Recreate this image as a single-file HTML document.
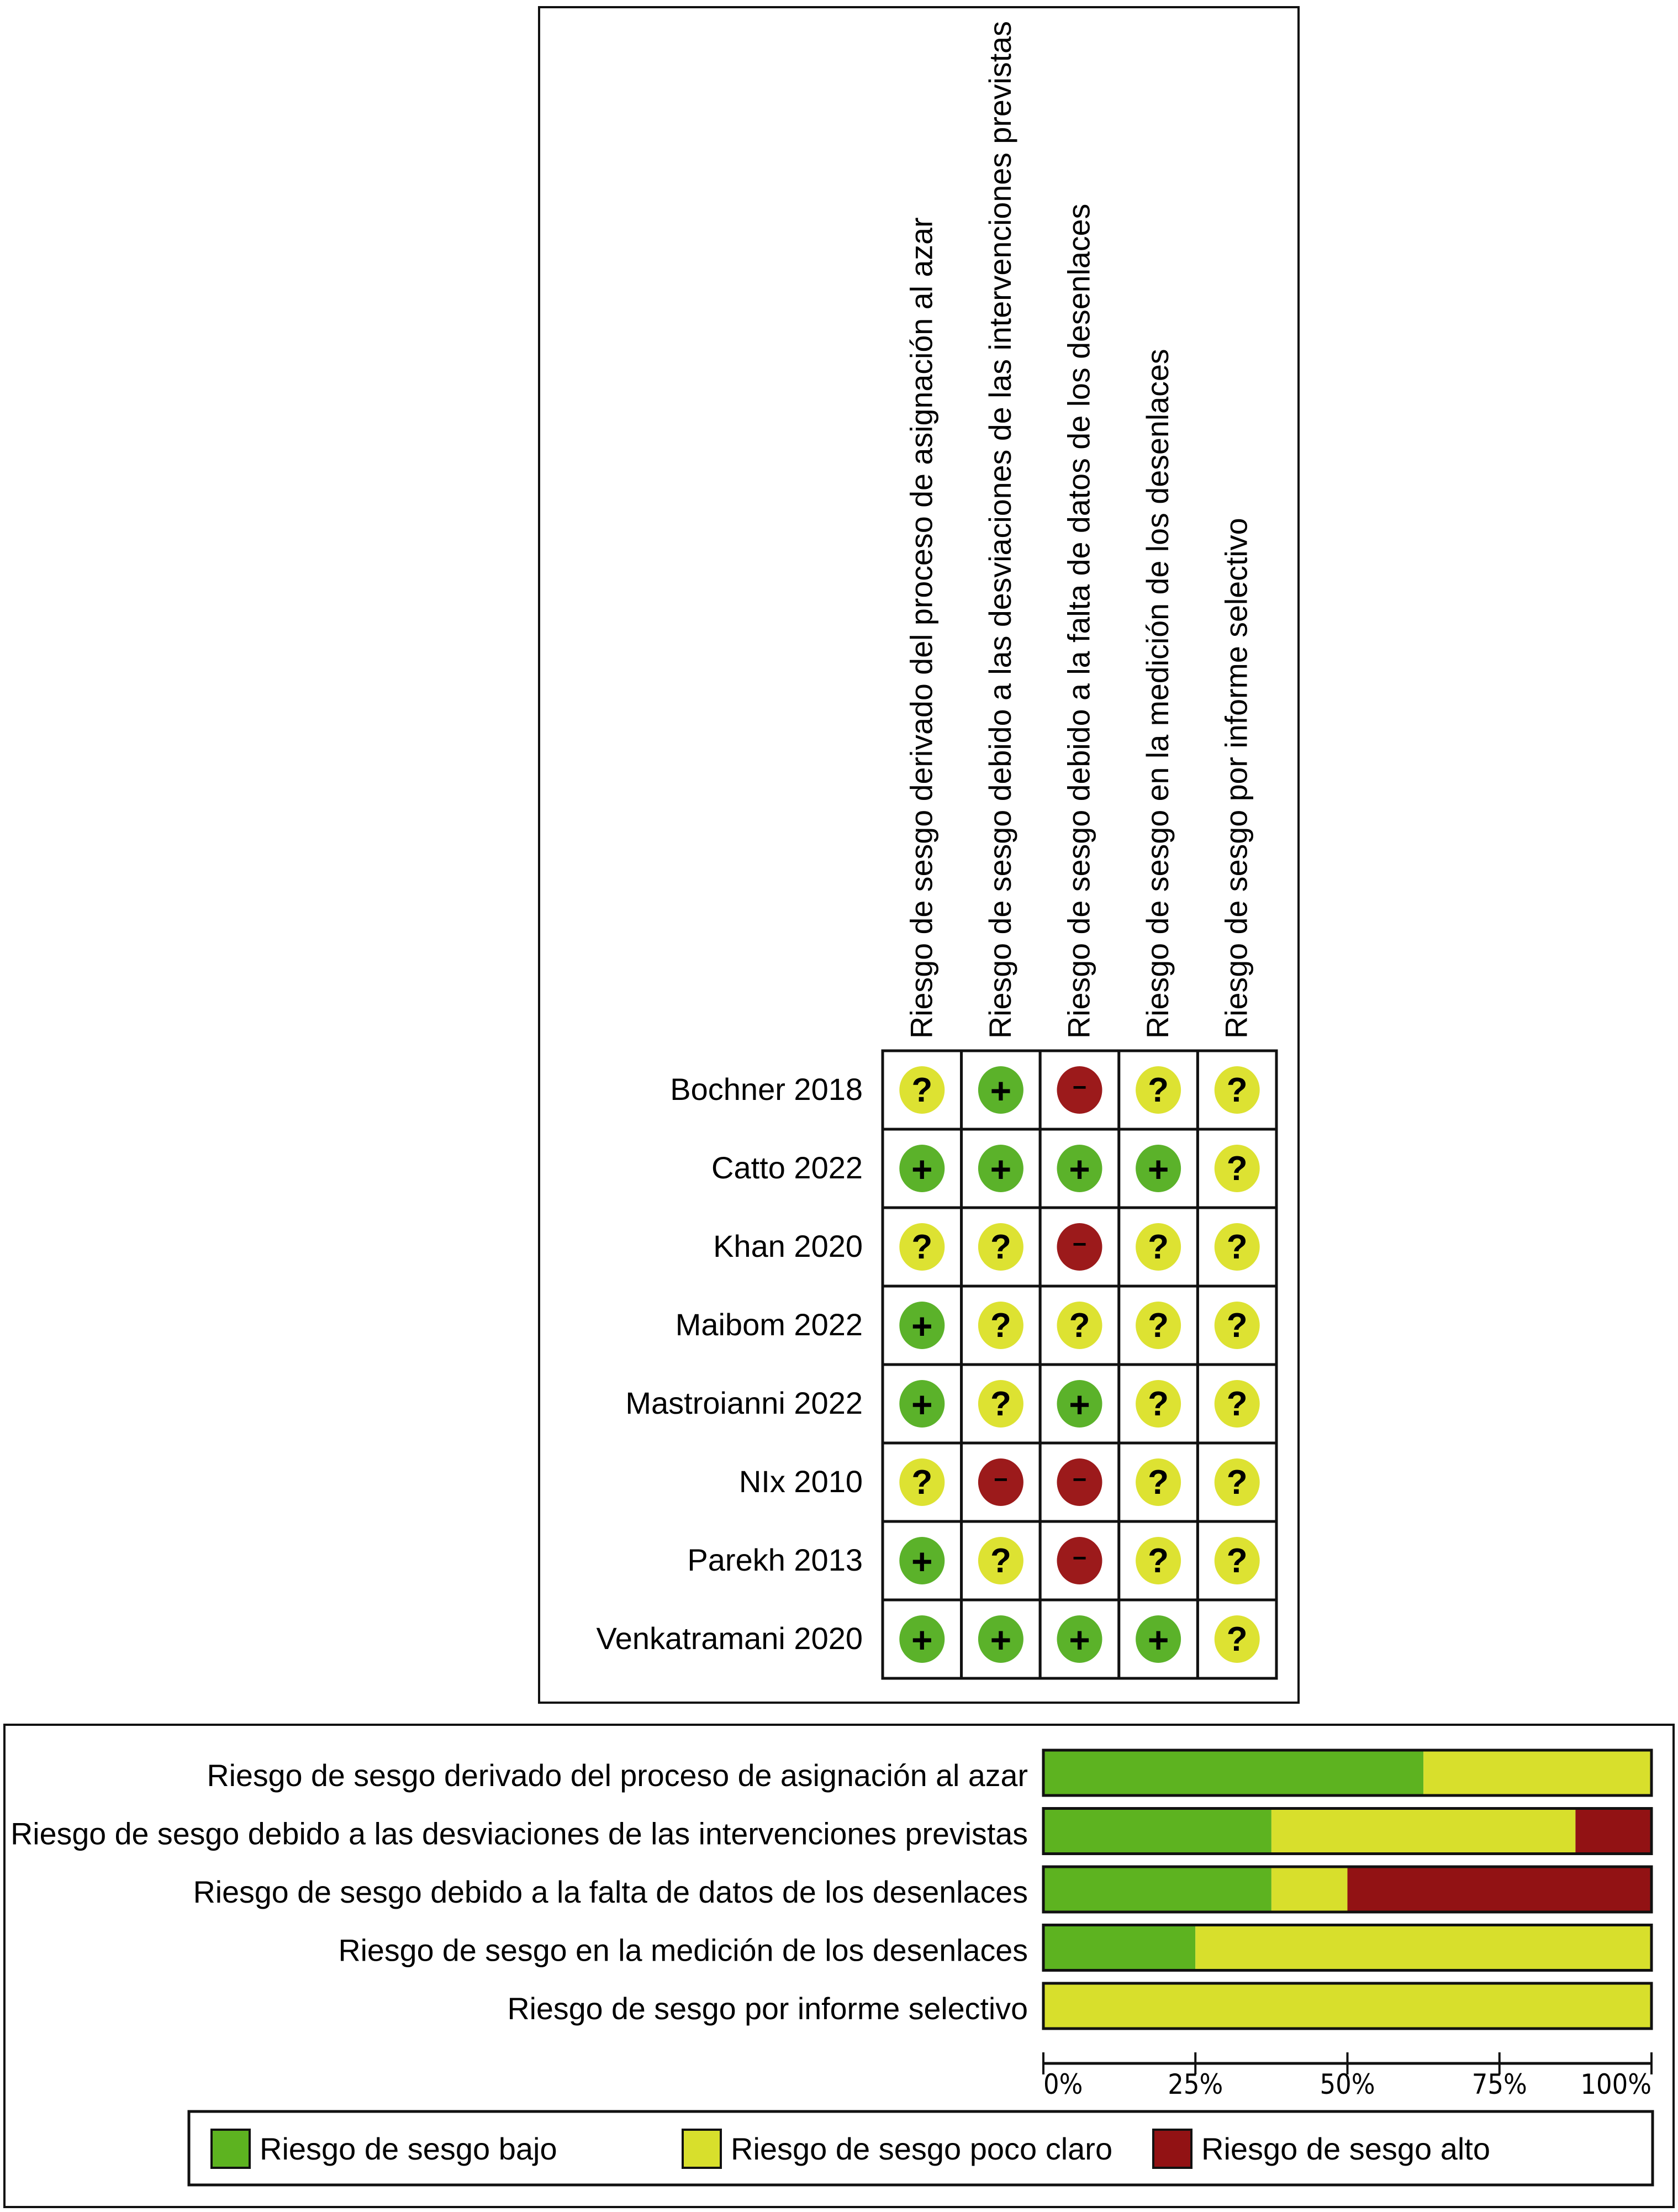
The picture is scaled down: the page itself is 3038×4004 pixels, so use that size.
<!DOCTYPE html>
<html><head><meta charset="utf-8"><style>
html,body{margin:0;padding:0;background:#fff;}
svg{display:block;}
text{font-family:"Liberation Sans",sans-serif;fill:#000;}
</style></head><body>
<svg id="chart" width="3038" height="4004" viewBox="0 0 3038 4004" xmlns="http://www.w3.org/2000/svg">
<rect x="976" y="13" width="1375" height="3069" fill="none" stroke="#111" stroke-width="4"/>
<rect x="8" y="3122" width="3022" height="873" fill="none" stroke="#111" stroke-width="4"/>
<g id="summary"></g>
<g id="graph"></g>
<g id="legend"></g>
</svg>
<script>
const domains = ["Riesgo de sesgo derivado del proceso de asignación al azar","Riesgo de sesgo debido a las desviaciones de las intervenciones previstas","Riesgo de sesgo debido a la falta de datos de los desenlaces","Riesgo de sesgo en la medición de los desenlaces","Riesgo de sesgo por informe selectivo"];
const studies = ["Bochner 2018","Catto 2022","Khan 2020","Maibom 2022","Mastroianni 2022","NIx 2010","Parekh 2013","Venkatramani 2020"];
const judgements = [
 ["?","+","-","?","?"],
 ["+","+","+","+","?"],
 ["?","?","-","?","?"],
 ["+","?","?","?","?"],
 ["+","?","+","?","?"],
 ["?","-","-","?","?"],
 ["+","?","-","?","?"],
 ["+","+","+","+","?"]
];
const lowPct = [62.5,37.5,37.5,25,0];
const unclearPct = [37.5,50,12.5,75,100];
const highPct = [0,12.5,50,0,0];
const tickValues = [0,25,50,75,100];
const tickLabels = ["0%","25%","50%","75%","100%"];
const legendLabels = ["Riesgo de sesgo bajo","Riesgo de sesgo poco claro","Riesgo de sesgo alto"];

const NS="http://www.w3.org/2000/svg";
const C={"+":"#5bb22a","?":"#dde232","-":"#9c1a1b"};
const BC=["#5db320","#d8df2c","#921214"];
function mk(t,a,p){const e=document.createElementNS(NS,t);for(const k in a)e.setAttribute(k,a[k]);p.appendChild(e);return e;}

const S=document.getElementById('summary');
const gx0=1598,gy0=1902,cw=142.6,rh=142;
const colX=i=>gx0+cw*i, rowY=j=>gy0+rh*j;
domains.forEach((d,i)=>{
  const cx=colX(i)+cw/2;
  const t=mk('text',{x:0,y:0,transform:`translate(${cx+18},1880) rotate(-90)`,'font-size':55.6},S);
  
  
  t.textContent=d;
});
studies.forEach((s,j)=>{
  const t=mk('text',{x:1562,y:rowY(j)+rh/2+18,'text-anchor':'end','font-size':56},S);
  
  
  t.textContent=s;
  judgements[j].forEach((v,i)=>{
    const r=mk('rect',{x:colX(i),y:rowY(j),width:cw,height:rh,fill:'#fff',stroke:'#111','stroke-width':5},S);
    
    
    const cx=colX(i)+cw/2, cy=rowY(j)+rh/2;
    const c=mk('ellipse',{cx:cx,cy:cy,rx:41,ry:43,fill:C[v]},S);
    
    
    const g=mk('text',{x:cx,y:cy+(v==='-'?10:(v==='+'?24:21)),'text-anchor':'middle','font-size':v==='-'?44:(v==='+'?66:62),'font-weight':'bold'},S);
    
    
    g.textContent=v==='-'?'−':v;
  });
});

const G=document.getElementById('graph');
const bx0=1889,bx1=2990;
const xs=p=>bx0+(bx1-bx0)*p/100;
const by0=3168,bh=82,bp=105.5;
domains.forEach((d,i)=>{
  const y=by0+bp*i;
  const t=mk('text',{x:1861,y:y+bh/2+24,'text-anchor':'end','font-size':55.6},G);
  
  
  t.textContent=d;
  const segs=[lowPct[i],unclearPct[i],highPct[i]];
  let acc=0;
  segs.forEach((v,k)=>{
    if(v<=0)return;
    const r=mk('rect',{x:xs(acc),y:y,width:xs(acc+v)-xs(acc),height:bh,fill:BC[k]},G);
    
    
    acc+=v;
  });
  const o=mk('rect',{x:bx0,y:y,width:bx1-bx0,height:bh,fill:'none',stroke:'#111','stroke-width':5},G);
  
  
});
const ay=3735;
const ax=mk('line',{x1:xs(0),x2:xs(100),y1:ay,y2:ay,stroke:'#111','stroke-width':5},G);


tickValues.forEach((v,i)=>{
  const l=mk('line',{x1:xs(v),x2:xs(v),y1:ay-20,y2:ay+20,stroke:'#111','stroke-width':4},G);
  
  
  const anc=i===0?'start':(i===tickValues.length-1?'end':'middle');
  const t=mk('text',{x:xs(v),y:3790,'text-anchor':anc,'font-size':50,style:'font-family:"DejaVu Sans Condensed","DejaVu Sans",sans-serif'},G);
  
  
  t.textContent=tickLabels[i];
});

const L=document.getElementById('legend');
const lb=mk('rect',{x:342,y:3822,width:2650,height:133,fill:'none',stroke:'#111','stroke-width':5},L);


const lx=[383,1236,2088];
legendLabels.forEach((s,k)=>{
  const r=mk('rect',{x:lx[k],y:3855,width:69,height:69,fill:BC[k],stroke:'#111','stroke-width':4},L);
  
  
  const t=mk('text',{x:lx[k]+87,y:3909,'font-size':56},L);
  
  
  t.textContent=s;
});
</script>
</body></html>
